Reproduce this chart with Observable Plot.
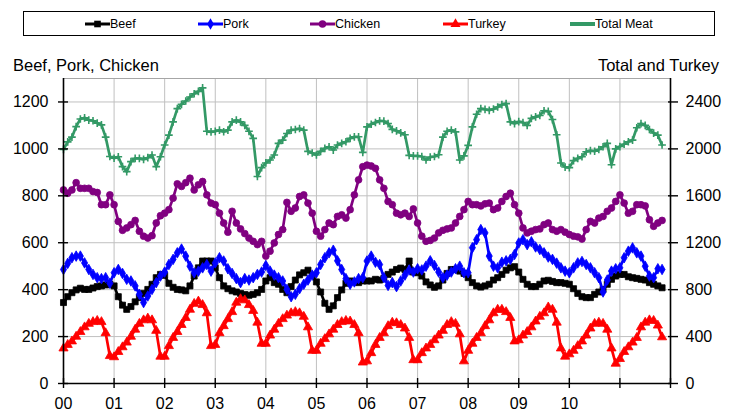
<!DOCTYPE html>
<html><head><meta charset="utf-8">
<script src="https://cdn.jsdelivr.net/npm/d3@7"></script>
<script src="https://cdn.jsdelivr.net/npm/@observablehq/plot@0.6"></script>
<style>
body{margin:0;background:#fff;font-family:"Liberation Sans",Arial,sans-serif;}
#legend{position:relative;width:732px;height:44px;}
#box{position:absolute;left:23px;top:11px;width:690px;height:23px;border:1.5px solid #000;}
.item{position:absolute;top:17px;height:14px;display:flex;align-items:center;font-size:12.5px;color:#000;}
.item svg{display:block;}
</style></head><body>
<div id="legend"><div id="box"></div></div>
<div id="chart"></div>
<script>
const startYear = 2000;
const seriesNames = ["Beef","Pork","Chicken","Turkey","Total Meat"];
const xTickLabels = ["00","01","02","03","04","05","06","07","08","09","10"];
const leftTicks = [0,200,400,600,800,1000,1200];
const rightTicks = [0,400,800,1200,1600,2000,2400];

const beef = [
345,370,387,399,406,401,401,407,413,416,420,423,
416,370,334,316,328,348,366,384,401,423,451,465,
461,427,410,401,399,395,416,458,493,522,522,522,
493,451,416,404,395,390,384,379,376,380,387,401,
437,451,430,423,401,387,413,441,463,472,483,461,
433,390,342,316,331,366,399,427,437,433,430,437,
437,437,444,441,448,465,475,486,492,486,522,475,
472,458,433,420,410,416,441,469,486,486,479,469,
451,430,416,411,416,423,441,451,465,483,493,498,
475,444,423,413,413,423,437,440,435,430,430,427,
423,404,384,370,366,366,380,390,401,423,444,458,
465,465,455,451,448,444,441,430,423,416,408];

const pork = [
486,512,536,543,543,514,486,465,451,447,451,427,
472,486,469,444,437,416,380,345,373,401,430,458,
475,507,529,557,573,543,500,472,479,493,507,479,
514,536,522,489,469,447,430,447,441,451,465,475,
503,479,462,451,437,401,370,380,404,423,441,462,
472,507,536,557,568,523,486,447,423,433,447,451,
522,543,517,507,451,418,430,413,437,462,484,475,
489,484,500,523,503,475,451,462,475,489,500,472,
472,579,613,656,642,543,500,493,517,523,529,550,
599,613,592,604,582,571,557,539,529,513,493,479,
472,493,514,520,507,493,472,451,390,441,479,489,
493,536,564,578,557,543,500,458,451,489,486];

const chicken = [
825,811,825,856,832,832,832,818,814,762,762,804,
762,691,653,663,677,695,649,628,620,630,684,715,
726,741,790,851,840,856,875,825,847,861,804,769,
762,726,684,645,734,684,659,639,620,606,592,606,
543,564,599,635,656,772,734,748,797,804,769,726,
649,628,656,684,677,712,719,705,741,804,868,924,
931,927,917,868,832,776,762,726,719,726,712,744,
684,628,606,610,620,642,653,659,663,684,712,741,
776,762,762,757,766,769,741,748,776,797,811,762,
726,663,642,649,656,659,677,684,656,649,656,645,
635,628,625,616,656,691,684,705,712,734,748,776,
804,769,726,734,762,762,757,698,670,684,695];

const turkey = [
300,330,360,400,440,480,510,525,535,525,430,235,
225,270,310,350,400,460,510,540,555,540,450,230,
230,320,390,440,500,560,630,680,700,670,600,320,
330,430,490,550,610,690,720,710,670,620,520,340,
340,410,460,510,550,580,600,610,600,570,480,280,
280,340,380,420,460,500,525,535,530,500,430,180,
190,260,330,390,430,490,520,515,500,470,390,200,
200,260,300,330,370,410,450,500,525,510,420,190,
280,340,390,430,490,540,600,630,630,610,560,360,
370,410,440,480,530,570,600,650,630,520,300,230,
250,280,320,360,410,470,510,520,510,460,300,170,
210,270,310,350,390,480,520,540,535,495,395];

const totalMeat = [
1996,2060,2100,2190,2255,2265,2245,2240,2220,2205,2100,1935,
1920,1933,1849,1806,1891,1919,1919,1911,1925,1948,1849,1933,
2033,2117,2230,2343,2380,2408,2442,2470,2490,2520,2150,2145,
2150,2160,2146,2160,2230,2245,2230,2200,2150,2090,1765,1840,
1880,1905,1948,2047,2075,2131,2160,2165,2174,2160,1979,1965,
1948,1979,2004,2018,1990,2033,2047,2061,2090,2103,2103,1970,
2188,2210,2225,2239,2236,2216,2166,2154,2137,2120,1945,1940,
1940,1935,1905,1930,1935,1950,2100,2150,2160,2145,1905,1940,
2030,2188,2295,2343,2337,2329,2340,2357,2377,2386,2230,2216,
2232,2225,2200,2260,2273,2285,2325,2320,2250,2120,1880,1845,
1840,1900,1919,1933,1975,1985,1980,1995,2018,2047,1865,2000,
2020,2040,2061,2075,2180,2216,2200,2165,2135,2117,2033];

const styles = {
  "Beef":       {color:"#000000", symbol:"square",   r:3.4, axis:"left"},
  "Pork":       {color:"#0000ff", symbol:"diamond",  r:3.2, axis:"left"},
  "Chicken":    {color:"#800080", symbol:"circle",   r:3.4, axis:"left"},
  "Turkey":     {color:"#ff0000", symbol:"triangle", r:3.4, axis:"right"},
  "Total Meat": {color:"#339966", symbol:"plus",     r:2.6, axis:"right"}
};
const values = {"Beef":beef,"Pork":pork,"Chicken":chicken,"Turkey":turkey,"Total Meat":totalMeat};

const rows = [];
for (const name of seriesNames) {
  values[name].forEach((v,i)=>rows.push({series:name, t:i/12, y: styles[name].axis==="right" ? v/2 : v}));
}

const marks = [
  Plot.ruleX(d3.range(1,12), {stroke:"#c0c0c0", strokeWidth:1}),
  Plot.ruleY(leftTicks.filter(d=>d>0), {stroke:"#c0c0c0", strokeWidth:1}),
  Plot.ruleY([1300], {stroke:"#a6a6a6", strokeWidth:1.2})
];
for (const name of seriesNames) {
  const s = styles[name];
  const data = rows.filter(d=>d.series===name);
  marks.push(Plot.line(data, {x:"t", y:"y", stroke:s.color, strokeWidth:2.7, strokeLinejoin:"round"}));
  if (s.symbol === "plus") {
    marks.push(Plot.dot(data, {x:"t", y:"y", symbol:"plus", r:s.r, stroke:s.color, strokeWidth:1.6}));
  } else {
    marks.push(Plot.dot(data, {x:"t", y:"y", symbol:s.symbol, r:s.r, fill:s.color, stroke:s.color, strokeWidth:0.8}));
  }
}
const noText = () => "";
marks.push(
  Plot.ruleX([0], {stroke:"#000", strokeWidth:1.6}),
  Plot.ruleX([12], {stroke:"#000", strokeWidth:1.6}),
  Plot.ruleY([0], {stroke:"#000", strokeWidth:1.6}),
  Plot.axisY(leftTicks, {anchor:"left", tickSize:10, dx:5, strokeWidth:1.4, tickFormat:noText, label:null}),
  Plot.axisY(leftTicks, {anchor:"left", tickSize:0, tickPadding:15, fontSize:16, tickFormat:d=>String(d), label:null}),
  Plot.axisY(rightTicks.map(v=>v/2), {anchor:"right", tickSize:10, dx:-3, strokeWidth:1.4, tickFormat:noText, label:null}),
  Plot.axisY(rightTicks.map(v=>v/2), {anchor:"right", tickSize:0, tickPadding:15, fontSize:16, tickFormat:d=>String(d*2), label:null}),
  Plot.axisX(d3.range(0,13), {anchor:"bottom", tickSize:10, dy:-5, strokeWidth:1.4, tickFormat:noText, label:null}),
  Plot.axisX(d3.range(0,xTickLabels.length), {anchor:"bottom", tickSize:0, tickPadding:14, fontSize:16, tickFormat:d=>xTickLabels[Math.round(d)], label:null})
);

const chart = Plot.plot({
  width:732, height:368,
  marginTop:34, marginBottom:29, marginLeft:63, marginRight:62,
  x:{domain:[0,12]},
  y:{domain:[0,1300]},
  style:{fontFamily:"'Liberation Sans', Arial, sans-serif", fontSize:"16px", color:"#000", background:"#fff", overflow:"visible"},
  marks
});
const svg = d3.select(chart);
svg.append("text").attr("x",13).attr("y",27).attr("font-size",16.5).attr("fill","#000").attr("text-anchor","start").text("Beef, Pork, Chicken");
svg.append("text").attr("x",719).attr("y",27).attr("font-size",16.5).attr("fill","#000").attr("text-anchor","end").text("Total and Turkey");
document.getElementById("chart").appendChild(chart);

// legend
const legendLeft = {"Beef":85,"Pork":198,"Chicken":310,"Turkey":443,"Total Meat":570};
const symMap = {square:d3.symbolSquare, diamond:d3.symbolDiamond, circle:d3.symbolCircle, triangle:d3.symbolTriangle, plus:d3.symbolPlus};
const legend = d3.select("#legend");
for (const name of seriesNames) {
  const s = styles[name];
  const item = legend.append("div").attr("class","item").style("left", legendLeft[name]+"px");
  const g = item.append("svg").attr("width",25).attr("height",14);
  g.append("line").attr("x1",0).attr("x2",25).attr("y1",7).attr("y2",7).attr("stroke",s.color).attr("stroke-width",name==="Total Meat"?4:3);
  if (name !== "Total Meat") {
    g.append("path").attr("transform","translate(12.5,7)")
      .attr("d", d3.symbol(symMap[s.symbol], Math.PI*s.r*s.r*1.2)())
      .attr("fill", s.color);
  }
  item.append("span").text(name);
}
</script>
</body></html>
